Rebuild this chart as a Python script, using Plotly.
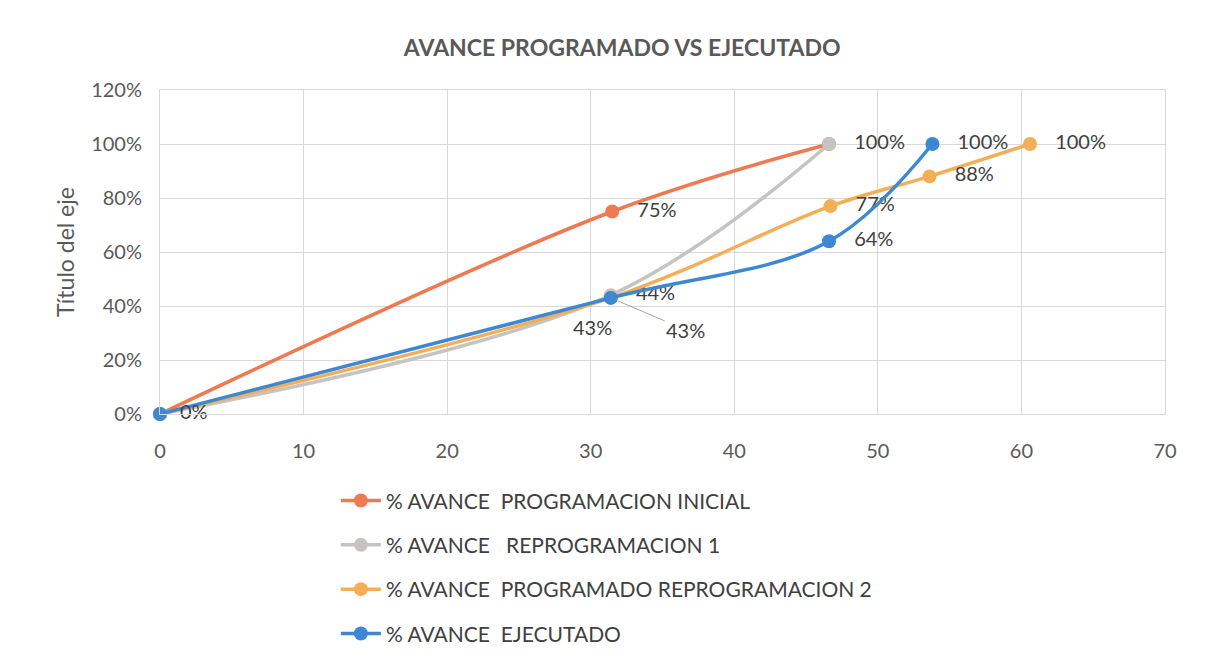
import plotly.graph_objects as go

# data
series_names = [
    "% AVANCE  PROGRAMACION INICIAL",
    "% AVANCE   REPROGRAMACION 1",
    "% AVANCE  PROGRAMADO REPROGRAMACION 2",
    "% AVANCE  EJECUTADO",
]
x_inicial = [0, 31.5, 46.6]
y_inicial = [0.0, 0.75, 1.00]
x_reprog1 = [0, 31.4, 46.6]
y_reprog1 = [0.0, 0.44, 1.00]
x_reprog2 = [0, 31.4, 46.7, 53.6, 60.6]
y_reprog2 = [0.0, 0.43, 0.77, 0.88, 1.00]
x_ejecutado = [0, 31.4, 46.6, 53.8]
y_ejecutado = [0.0, 0.43, 0.64, 1.00]

colors = ["#EE7A52", "#C7C3C3", "#F4AE57", "#3C88D2"]
FONT = "Lato"
LABEL_COLOR = "#404040"
NB = "\u00a0"


def pct(v, pad=3):
    return NB * pad + f"{round(v * 100):.0f}%"


# which labels to show and where (Excel hides the overlapping ones)
label_setup = [
    (x_inicial, y_inicial, ["", pct(y_inicial[1]), ""], "middle right"),
    (x_reprog1, y_reprog1, ["", pct(y_reprog1[1]), pct(y_reprog1[2])], "middle right"),
    (x_reprog2, y_reprog2, ["", ""] + [pct(v) for v in y_reprog2[2:]], "middle right"),
    (x_ejecutado, y_ejecutado,
     [pct(y_ejecutado[0], 2), ""] + [pct(v) for v in y_ejecutado[2:]],
     "middle right"),
]

fig = go.Figure()
for i, (xs, ys, texts, pos) in enumerate(label_setup):
    fig.add_trace(go.Scatter(
        x=xs,
        y=ys,
        name=series_names[i],
        mode="lines+markers+text",
        line=dict(color=colors[i], width=3.5, shape="spline", smoothing=1.0),
        marker=dict(color=colors[i], size=14),
        text=texts,
        textposition=pos,
        textfont=dict(family=FONT, size=20, color=LABEL_COLOR),
        cliponaxis=False,
        legendgroup=f"g{i}",
    ))

label_font = dict(family=FONT, size=20, color=LABEL_COLOR)

# reprogramacion 2 label pushed away with a leader line
fig.add_annotation(
    x=x_reprog2[1], y=y_reprog2[1], text=pct(y_reprog2[1], 0),
    showarrow=True, arrowhead=0, arrowwidth=1, arrowcolor="#A6A6A6",
    ax=75, ay=32, standoff=8, font=label_font,
)
# ejecutado label sits below-left of its marker
fig.add_annotation(
    x=x_ejecutado[1], y=y_ejecutado[1], text=pct(y_ejecutado[1], 0),
    showarrow=False, xshift=-18, yshift=-29, font=label_font,
)

fig.update_layout(
    width=1209,
    height=668,
    paper_bgcolor="white",
    plot_bgcolor="white",
    margin=dict(l=152, r=52, t=82, b=262),
    title=dict(
        text="<b>AVANCE PROGRAMADO VS EJECUTADO</b>",
        x=0.508, xanchor="center", y=0.94, yanchor="middle",
        font=dict(family=FONT, size=23, color="#595959"),
    ),
    xaxis=dict(
        range=[0, 70], dtick=10, showgrid=True, gridcolor="#D9D9D9",
        zeroline=False, showline=True, linecolor="#D9D9D9", mirror=True,
        ticks="outside", ticklen=19, tickcolor="rgba(0,0,0,0)",
        tickfont=dict(family=FONT, size=20, color="#595959"),
    ),
    yaxis=dict(
        range=[0, 1.2], dtick=0.2, tickformat=".0%", showgrid=True,
        gridcolor="#D9D9D9", zeroline=False, showline=True, linecolor="#D9D9D9",
        mirror=True, ticks="outside", ticklen=13, tickcolor="rgba(0,0,0,0)",
        tickfont=dict(family=FONT, size=20, color="#595959"),
        title=dict(text="Título del eje", standoff=10,
                   font=dict(family=FONT, size=23, color="#595959")),
    ),
    legend=dict(
        x=0.175, xanchor="left", y=-0.205, yanchor="top",
        traceorder="grouped", tracegroupgap=14,
        font=dict(family=FONT, size=21, color="#404040"),
        itemwidth=40,
    ),
    showlegend=True,
)

fig.write_html("out.html")
